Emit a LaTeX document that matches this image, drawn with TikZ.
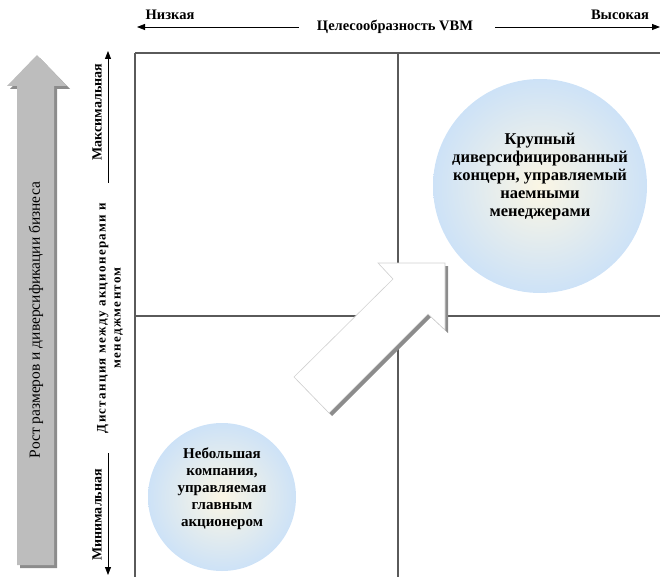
\documentclass[tikz,border=0pt]{standalone}
\usepackage{fontspec}
\setmainfont{Liberation Serif}
\usetikzlibrary{arrows.meta}

\definecolor{cream}{HTML}{FBF6E4}
\definecolor{skyedge}{HTML}{CDE2F7}
\definecolor{gridgray}{HTML}{5A5A5A}
\definecolor{barfill}{HTML}{BDBDBD}

\tikzset{
  axisline/.style={line width=0.8pt,-{Triangle[length=8pt,width=6pt]}},
  gridline/.style={draw=gridgray,line width=1.3pt},
  axislabel/.style={inner sep=0pt,font=\bfseries\fontsize{14.5}{16}\selectfont},
  sidelabel/.style={inner sep=0pt,rotate=90,align=center,font=\fontsize{13}{15}\selectfont},
  firm/.style={circle,inner sep=0pt,minimum size=#1,inner color=cream,outer color=skyedge},
  firmtext/.style={inner sep=0pt,align=center},
}

\begin{document}
\begin{tikzpicture}[x=1pt,y=-1pt]
  \useasboundingbox (0,0) rectangle (660,577);
  % quadrant grid
  \draw[gridline] (135,53) -- (660,53);
  \draw[gridline] (135,53) -- (135,577);
  \draw[gridline] (135,316) -- (660,316);
  \draw[gridline] (398,53) -- (398,577);

  % horizontal axis: VBM
  \node[axislabel] (vbm) at (395,27) {Целесообразность VBM};
  \node[axislabel] (low) at (170,15) {Низкая};
  \node[axislabel] (high) at (620,15) {Высокая};
  \coordinate (lowtip) at (137,27);
  \coordinate (hightip) at (660,27);
  \draw[axisline,shorten <=18pt] (vbm.west) -- (lowtip);
  \draw[axisline,shorten <=22pt] (vbm.east) -- (hightip);

  % vertical axis: distance
  \node[axislabel,rotate=90,font=\bfseries\fontsize{14}{16}\selectfont] (maxi) at (97,112) {Максимальная};
  \node[axislabel,rotate=90,font=\bfseries\fontsize{14}{16}\selectfont] (mini) at (97,515) {Минимальная};
  \node[sidelabel,font=\bfseries\fontsize{13}{15}\addfontfeatures{LetterSpace=10}\selectfont] (dist) at (110,318)
    {Дистанция между акционерами и\\менеджментом};
  \coordinate (maxfoot) at (108,183);
  \coordinate (maxtip) at (108,51);
  \coordinate (minfoot) at (108,453);
  \coordinate (mintip) at (108,575);
  \draw[axisline] (maxfoot) -- (maxtip);
  \draw[axisline] (minfoot) -- (mintip);

  % growth bar with shadow
  \fill[black!45,shift={(3,3)}] (37,55) -- (67,86) -- (54,86) -- (54,565) -- (17,565) -- (17,86) -- (7,86) -- cycle;
  \fill[barfill] (37,55) -- (67,86) -- (54,86) -- (54,565) -- (17,565) -- (17,86) -- (7,86) -- cycle;
  \node[sidelabel,font=\fontsize{15.5}{17}\selectfont] (growth) at (36,320) {Рост размеров и диверсификации бизнеса};

  % diagonal white arrow with shadow
  \fill[black!45,shift={(3,3)}] (294,377) -- (393,279) -- (378,263) -- (445,263) -- (445,330) -- (428,314) -- (329,413) -- cycle;
  \filldraw[fill=white,draw=black!18,line width=0.6pt] (294,377) -- (393,279) -- (378,263) -- (445,263) -- (445,330) -- (428,314) -- (329,413) -- cycle;

  % firms
  \node[firm=214pt] (big) at (540,186) {};
  \node[firmtext,font=\bfseries\fontsize{16.5}{18}\selectfont] (bigtext) at ([yshift=9pt]big.center)
    {Крупный\\диверсифицированный\\концерн, управляемый\\наемными\\менеджерами};
  \node[firm=148pt] (small) at (222,497) {};
  \node[firmtext,font=\bfseries\fontsize{15}{17}\selectfont] (smalltext) at ([yshift=8pt]small.center)
    {Небольшая\\компания,\\управляемая\\главным\\акционером};
\end{tikzpicture}
\end{document}
